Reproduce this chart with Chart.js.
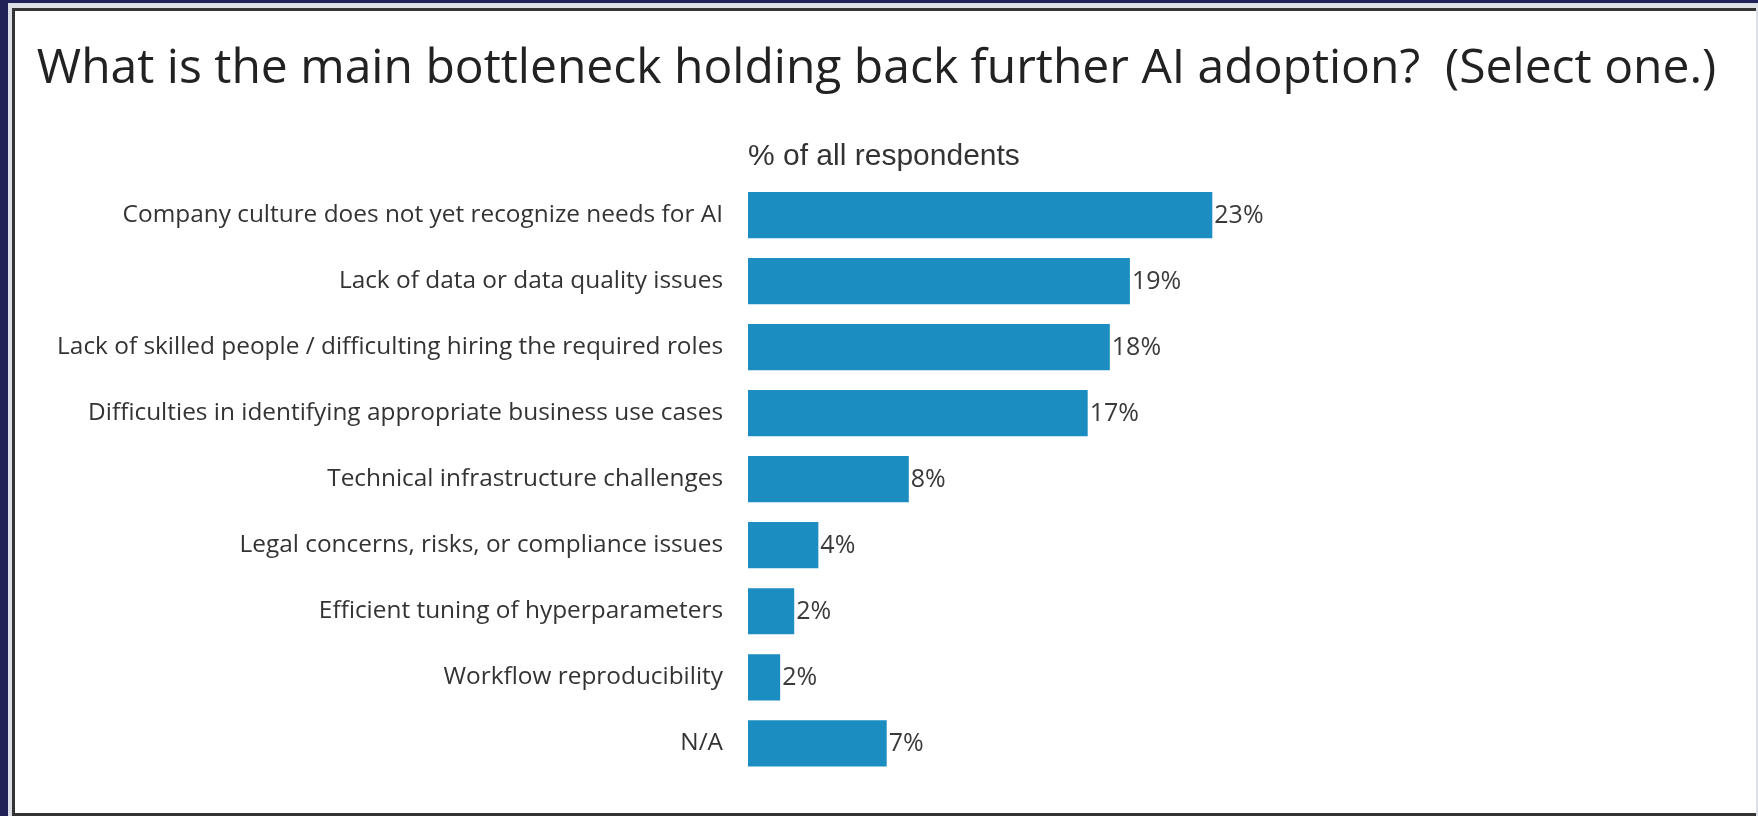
<!DOCTYPE html>
<html>
<head>
<meta charset="utf-8">
<title>AI adoption bottleneck</title>
<script src="https://cdn.jsdelivr.net/npm/chart.js@4.4.1/dist/chart.umd.min.js"></script>
<style>
  html, body { margin: 0; padding: 0; width: 1758px; height: 816px; overflow: hidden; background: #1f2157; }
  #frame { position: absolute; left: 8px; top: 3px; right: 0; bottom: 0; background: #dcdfe6; }
  #panel { position: absolute; left: 4px; top: 5px; right: 2px; bottom: 0; background: #fff;
           border-left: 3px solid #333; border-top: 3px solid #333; border-bottom: 3px solid #333; }
  #wrap { position: absolute; left: 0; top: 0; width: 1758px; height: 816px; }
</style>
</head>
<body>
<div id="frame"><div id="panel"></div></div>
<div id="wrap"><canvas id="bottleneckChart"></canvas></div>
<script>
// Survey: main bottleneck holding back AI adoption

const categories = [
  'Company culture does not yet recognize needs for AI',
  'Lack of data or data quality issues',
  'Lack of skilled people / difficulting hiring the required roles',
  'Difficulties in identifying appropriate business use cases',
  'Technical infrastructure challenges',
  'Legal concerns, risks, or compliance issues',
  'Efficient tuning of hyperparameters',
  'Workflow reproducibility',
  'N/A'
];
const shares = [23.1, 19, 18, 16.9, 8, 3.5, 2.3, 1.6, 6.9];

// percentage text to the right of each bar
const valueLabels = {
  id: 'valueLabels',
  afterDatasetsDraw(chart) {
    const ctx = chart.ctx;
    const meta = chart.getDatasetMeta(0);
    ctx.save();
    ctx.font = '25px "Open Sans"';
    ctx.fillStyle = '#3a3a3a';
    ctx.textAlign = 'left';
    ctx.textBaseline = 'middle';
    meta.data.forEach((bar, i) => {
      ctx.fillText(Math.round(shares[i]) + '%', bar.x + 2, bar.y + 1);
    });
    ctx.restore();
  }
};

window.addEventListener('DOMContentLoaded', () => {
  Chart.defaults.font.family = '"Open Sans"';
  const ctx = document.getElementById('bottleneckChart').getContext('2d');
  new Chart(ctx, {
    type: 'bar',
    data: {
      labels: categories,
      datasets: [{
        data: shares,
        backgroundColor: '#1b8dc1',
        barPercentage: 0.7,
        categoryPercentage: 1
      }]
    },
    options: {
      indexAxis: 'y',
      responsive: true,
      maintainAspectRatio: false,
      animation: false,
      layout: { padding: { top: 20, right: 5, bottom: 33, left: 0 } },
      plugins: {
        legend: { display: false },
        tooltip: { enabled: false },
        title: {
          display: true,
          text: 'What is the main bottleneck holding back further AI adoption?  (Select one.)',
          color: '#222',
          font: { size: 48, weight: 'normal' },
          padding: { top: 21, bottom: 10 }
        }
      },
      scales: {
        x: {
          position: 'top',
          min: 0,
          max: 50,
          grid: { display: false, drawTicks: false },
          border: { display: false },
          ticks: { display: false },
          title: {
            display: true,
            text: '% of all respondents',
            align: 'start',
            color: '#333',
            font: { family: '"Liberation Sans", Arial', size: 30 },
            padding: { top: 30.4, bottom: 7 }
          }
        },
        y: {
          grid: { display: false, drawTicks: false },
          border: { display: false },
          ticks: { color: '#333', font: { size: 24.4 }, padding: 25 },
          afterFit(scale) { scale.width = 748; }
        }
      }
    },
    plugins: [valueLabels]
  });
});
</script>
</body>
</html>
